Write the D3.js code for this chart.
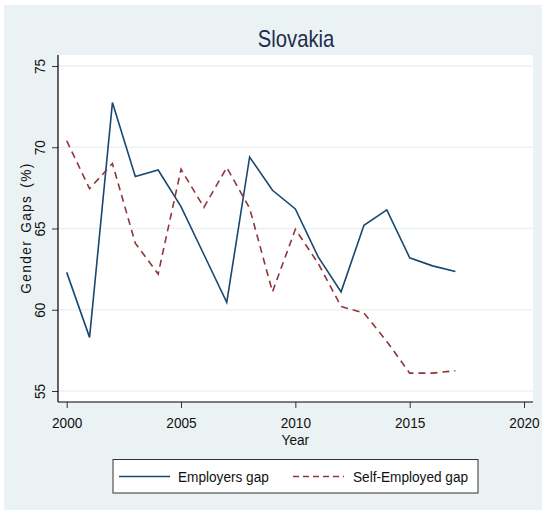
<html>
  <head>
    <title>Slovakia</title>
    <script src="https://d3js.org/d3.v7.min.js"></script>
    <style>
      body { margin: 0; background: #fff; }
      text { font-family: "Liberation Sans", Arial, sans-serif; }
    </style>
  </head>
  <body>
    <div id='wrapper'></div>
    <script>
      // data
      var years = [2000, 2001, 2002, 2003, 2004, 2005, 2006, 2007, 2008,
                   2009, 2010, 2011, 2012, 2013, 2014, 2015, 2016, 2017];
      var employersGap = [62.3, 58.3, 72.75, 68.2, 68.6, 66.35, 63.4, 60.45, 69.4,
                          67.35, 66.2, 63.25, 61.1, 65.2, 66.15, 63.2, 62.7, 62.35];
      var selfEmployedGap = [70.4, 67.45, 69.0, 64.1, 62.2, 68.65, 66.3, 68.75, 66.25,
                             61.1, 64.95, 62.85, 60.2, 59.8, 58.05, 56.1, 56.1, 56.25];
      var xTicks = [2000, 2005, 2010, 2015, 2020];
      var yTicks = [55, 60, 65, 70, 75];
      var seriesNames = ["Employers gap", "Self-Employed gap"];

      var width = 545, height = 515;
      var bg = "#eaf2f3";
      var blue = "#1a476f", red = "#90353b";
      var narrow = 0.88; // stata's font is narrower than anything installed

      var svg = d3.select("#wrapper").append("svg")
        .attr("width", width)
        .attr("height", height);

      // text squeezed horizontally around its anchor point
      function addText(parent, x, y, str, size, rot) {
        var g = parent.append("g")
          .attr("transform", "translate(" + x + "," + y + ")" + (rot ? " rotate(" + rot + ")" : ""));
        return g.append("text")
          .attr("transform", "scale(" + narrow + ",1)")
          .attr("font-size", size)
          .text(str);
      }

      // outer graph region
      svg.append("rect").attr("x", 4).attr("y", 5)
         .attr("width", 538).attr("height", 505).attr("fill", bg);

      // plot region
      var plotLeft = 58, plotRight = 533, plotTop = 55, plotBottom = 402;
      svg.append("rect").attr("x", plotLeft).attr("y", plotTop)
         .attr("width", plotRight - plotLeft).attr("height", plotBottom - plotTop)
         .attr("fill", "#fff");

      var xScale = d3.scaleLinear().domain([2000, 2020]).range([66.7, 524]);
      var yScale = d3.scaleLinear().domain([55, 75]).range([391, 66]);

      // gridlines
      svg.append("g").selectAll("line").data(yTicks).enter().append("line")
         .attr("x1", plotLeft).attr("x2", plotRight)
         .attr("y1", d => yScale(d)).attr("y2", d => yScale(d))
         .attr("stroke", bg).attr("stroke-width", 1.5);

      // axes
      var xAxis = d3.axisBottom(xScale).tickValues(xTicks).tickFormat(d3.format("d"))
                    .tickSize(6).tickPadding(9);
      var gx = svg.append("g").attr("transform", "translate(0," + plotBottom + ")").call(xAxis);
      gx.select(".domain").remove();
      gx.append("line").attr("x1", plotLeft).attr("x2", plotRight)
        .attr("stroke", "#000").attr("stroke-width", 1.2);
      gx.selectAll(".tick line").attr("stroke", "#333");
      gx.selectAll(".tick text").attr("font-size", 15.5).attr("fill", "#111")
        .attr("font-family", "Liberation Sans, Arial, sans-serif")
        .attr("transform", "scale(" + narrow + ",1)");

      var yAxis = d3.axisLeft(yScale).tickValues(yTicks).tickSize(6).tickPadding(0);
      var gy = svg.append("g").attr("transform", "translate(" + plotLeft + ",0)").call(yAxis);
      gy.select(".domain").remove();
      gy.append("line").attr("y1", plotTop).attr("y2", plotBottom)
        .attr("stroke", "#000").attr("stroke-width", 1.2);
      gy.selectAll(".tick line").attr("stroke", "#333");
      gy.selectAll(".tick text")
        .attr("font-size", 15.5).attr("fill", "#111")
        .attr("font-family", "Liberation Sans, Arial, sans-serif")
        .attr("x", null).attr("dy", null)
        .attr("text-anchor", "middle")
        .attr("transform", "translate(-13,0) rotate(-90) scale(" + narrow + ",1)");

      // axis titles
      addText(svg, (66.7 + 524) / 2, 445, "Year", 15.5)
        .attr("text-anchor", "middle").attr("fill", "#111");
      addText(svg, 31, 228, "Gender Gaps (%)", 15.5, -90)
        .attr("text-anchor", "middle").attr("fill", "#111")
        .attr("letter-spacing", 1.6)
        .attr("word-spacing", 2);

      // title
      addText(svg, 296, 47, "Slovakia", 23)
        .attr("text-anchor", "middle").attr("fill", "#1e2c4f");

      // lines
      var line = d3.line()
        .x(d => xScale(d[0]))
        .y(d => yScale(d[1]));

      svg.append("path")
         .datum(years.map((y, i) => [y, employersGap[i]]))
         .attr("d", line).attr("fill", "none")
         .attr("stroke", blue).attr("stroke-width", 1.6);

      svg.append("path")
         .datum(years.map((y, i) => [y, selfEmployedGap[i]]))
         .attr("d", line).attr("fill", "none")
         .attr("stroke", red).attr("stroke-width", 1.6)
         .attr("stroke-dasharray", "7,5");

      // legend
      var legend = svg.append("g");
      legend.append("rect").attr("x", 113).attr("y", 459.5)
            .attr("width", 365).attr("height", 33.5)
            .attr("fill", "#fff").attr("stroke", "#333").attr("stroke-width", 1);
      legend.append("line").attr("x1", 119).attr("x2", 170)
            .attr("y1", 476.5).attr("y2", 476.5)
            .attr("stroke", blue).attr("stroke-width", 1.6);
      addText(legend, 178, 482, seriesNames[0], 15.5).attr("fill", "#111");
      legend.append("line").attr("x1", 293).attr("x2", 344)
            .attr("y1", 476.5).attr("y2", 476.5)
            .attr("stroke", red).attr("stroke-width", 1.6)
            .attr("stroke-dasharray", "6,4");
      addText(legend, 353, 482, seriesNames[1], 15.5).attr("fill", "#111");
    </script>
  </body>
</html>
